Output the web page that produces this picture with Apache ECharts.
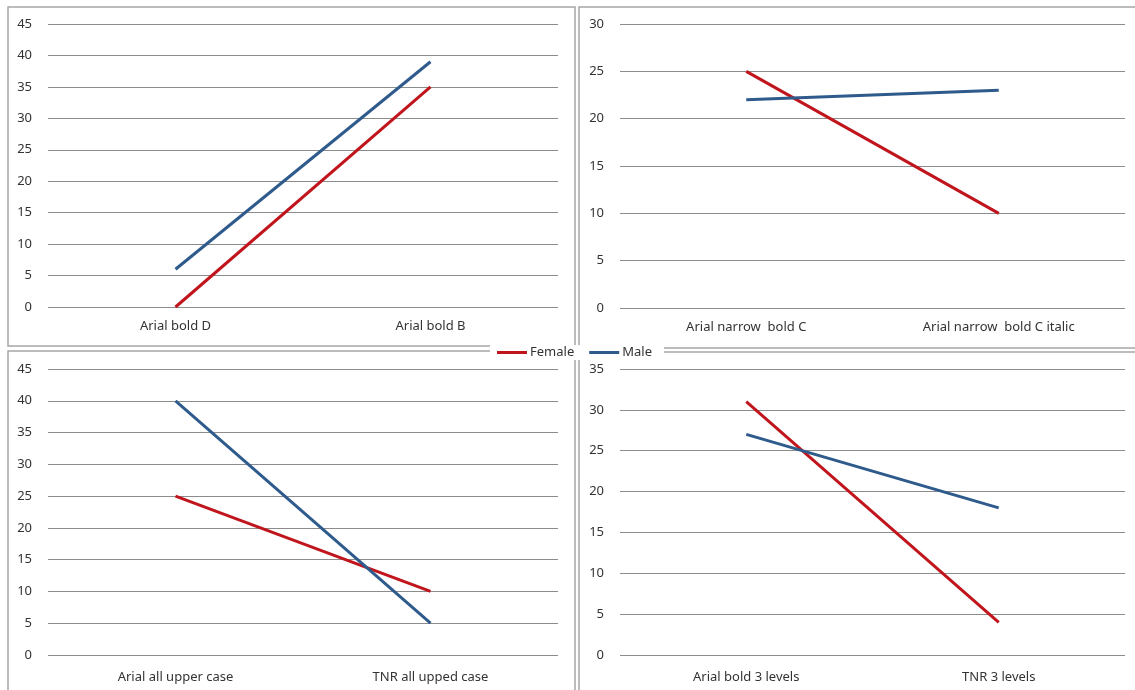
<!DOCTYPE html>
<html>
<head>
<meta charset="utf-8">
<script src="https://cdn.jsdelivr.net/npm/echarts@6/dist/echarts.min.js"></script>
<style>
html,body{margin:0;padding:0;background:#fff;}
#c{width:1135px;height:690px;}
</style>
</head>
<body>
<div id="c"></div>
<script>
// Panel categories
const cats1 = ['Arial bold D', 'Arial bold B'];
const cats2 = ['Arial narrow  bold C', 'Arial narrow  bold C italic'];
const cats3 = ['Arial all upper case', 'TNR all upped case'];
const cats4 = ['Arial bold 3 levels', 'TNR 3 levels'];
// Series values
const female1 = [0, 35];
const male1 = [6, 39];
const female2 = [25, 10];
const male2 = [22, 23];
const female3 = [25, 10];
const male3 = [40, 5];
const female4 = [31, 4];
const male4 = [27, 18];
// Y axis ranges
const yMax = [45, 30, 45, 35];

const RED = '#c0151c';
const BLUE = '#2e5a8c';
const FONT = 'Noto Sans';

const grids = [
  {left: 48, top: 24, width: 510, height: 283},
  {left: 620, top: 24, width: 505, height: 284},
  {left: 48, top: 369, width: 510, height: 286},
  {left: 620, top: 369, width: 505, height: 286}
];
const labelMargins = [13, 13, 16, 16];
const catsAll = [cats1, cats2, cats3, cats4];
const fem = [female1, female2, female3, female4];
const mal = [male1, male2, male3, male4];

const chart = echarts.init(document.getElementById('c'));
const option = {
  animation: false,
  backgroundColor: '#fff',
  textStyle: {fontFamily: FONT},
  graphic: [
    {type: 'rect', z: -10, shape: {x: 8, y: 7, width: 567, height: 339}, style: {fill: 'none', stroke: '#a6a6a6', lineWidth: 1.5}},
    {type: 'rect', z: -10, shape: {x: 579, y: 7, width: 570, height: 341}, style: {fill: 'none', stroke: '#a6a6a6', lineWidth: 1.5}},
    {type: 'rect', z: -10, shape: {x: 8, y: 351, width: 567, height: 360}, style: {fill: 'none', stroke: '#a6a6a6', lineWidth: 1.5}},
    {type: 'rect', z: -10, shape: {x: 579, y: 352, width: 570, height: 360}, style: {fill: 'none', stroke: '#a6a6a6', lineWidth: 1.5}}
  ],
  legend: {
    data: ['Female', 'Male'],
    left: 490,
    top: 345,
    itemWidth: 30,
    itemHeight: 3,
    itemGap: 15,
    padding: [1, 12, 1, 7],
    backgroundColor: '#fff',
    icon: 'rect',
    textStyle: {fontFamily: FONT, fontSize: 13, color: '#333', padding: [0, 0, 0, -2]}
  },
  grid: grids,
  xAxis: grids.map((g, i) => ({
    type: 'category',
    gridIndex: i,
    data: catsAll[i],
    boundaryGap: true,
    axisLine: {show: false},
    axisTick: {show: false},
    axisLabel: {fontFamily: FONT, fontSize: 13, color: '#333', margin: labelMargins[i]}
  })),
  yAxis: grids.map((g, i) => ({
    type: 'value',
    gridIndex: i,
    min: 0,
    max: yMax[i],
    interval: 5,
    axisLine: {show: false},
    axisTick: {show: false},
    splitLine: {lineStyle: {color: '#8c8c8c', width: 1}},
    axisLabel: {fontFamily: FONT, fontSize: 13, color: '#333', margin: 16}
  })),
  series: [].concat(...grids.map((g, i) => [
    {name: 'Female', type: 'line', xAxisIndex: i, yAxisIndex: i, data: fem[i], symbol: 'none', color: RED, lineStyle: {color: RED, width: 3}},
    {name: 'Male', type: 'line', xAxisIndex: i, yAxisIndex: i, data: mal[i], symbol: 'none', color: BLUE, lineStyle: {color: BLUE, width: 3}}
  ]))
};
chart.setOption(option);
</script>
</body>
</html>
